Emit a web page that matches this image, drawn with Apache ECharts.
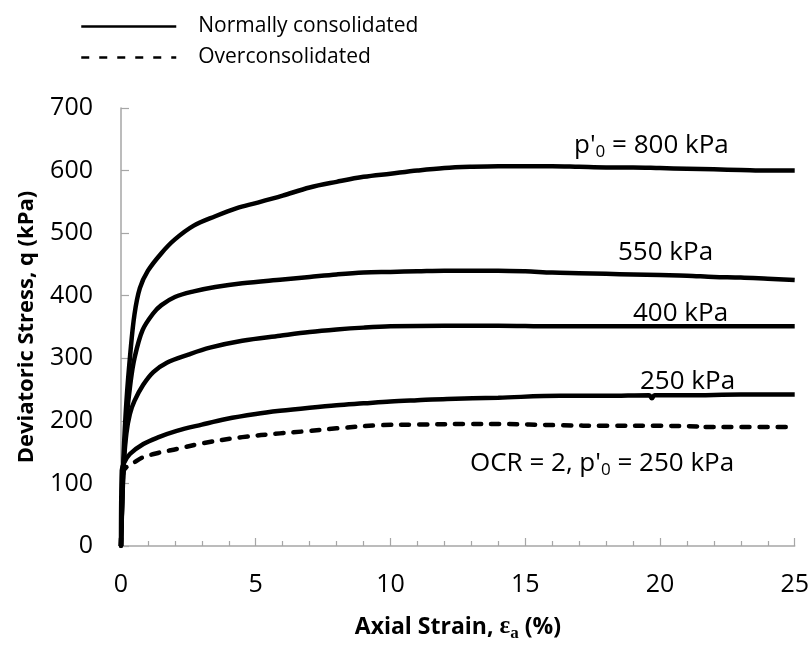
<!DOCTYPE html>
<html>
<head>
<meta charset="utf-8">
<title>Deviatoric stress vs axial strain</title>
<script src="https://cdn.jsdelivr.net/npm/echarts@6/dist/echarts.min.js"></script>
<style>
  html, body { margin: 0; padding: 0; background: #fff; }
  #chart { width: 812px; height: 647px; }
</style>
</head>
<body>
<div id="chart"></div>
<script>
// axial strain (%) and deviatoric stress q (kPa)
var strain800 = [0, 0.05, 0.1, 0.2, 0.35, 0.5, 0.7, 1, 1.5, 2, 2.7, 3.5, 4.3, 5, 6, 7, 8, 9, 10, 11, 12, 13, 14, 15, 16, 17, 18, 19, 20, 21, 22, 23, 24, 25]
var q800 = [0, 80, 150, 230, 310, 370, 412, 440, 468, 490, 512, 527, 540, 548, 560, 573, 582, 590, 595, 600, 604, 606, 607, 607, 607, 606, 605, 605, 604, 603, 602, 601, 600, 600]

var strain550 = [0, 0.1, 0.2, 0.35, 0.5, 0.8, 1.2, 1.5, 2, 2.7, 3.5, 4.5, 6, 7, 8, 9, 10, 11, 12, 13, 14, 15, 16, 17, 18, 19, 20, 21, 22, 23, 24, 25]
var q550 = [0, 130, 200, 260, 300, 345, 372, 385, 398, 407, 414, 420, 426, 430, 434, 437, 438, 439, 440, 440, 440, 439, 437, 436, 435, 434, 433, 432, 430, 429, 427, 425]

var strain400 = [0, 0.05, 0.1, 0.2, 0.33, 0.5, 0.83, 1.2, 1.7, 2.5, 3.3, 4.5, 5.9, 7, 8, 9, 10, 12, 14, 16, 18, 20, 22, 25]
var q400 = [0, 80, 130, 180, 211, 232, 258, 278, 293, 306, 317, 328, 336, 342, 346, 349, 351, 352, 352, 351, 351, 351, 351, 351]

var strain250 = [0, 0.03, 0.1, 0.33, 0.83, 1.4, 2.07, 3, 3.9, 5, 5.9, 7, 8, 9, 10, 11, 12.1, 14, 16.3, 18, 19.6, 19.7, 19.8, 21, 23, 25]
var q250 = [0, 121, 132, 147, 163, 174, 184, 194, 203, 211, 216, 221, 225, 228, 231, 233, 235, 237, 240, 240, 241, 236, 241, 241, 242, 242]

var strainOC = [0, 0.05, 0.1, 0.2, 0.5, 0.83, 1.4, 2.07, 3, 4.5, 5.9, 6.75, 8, 9.6, 11, 12.9, 14, 16.3, 18, 20, 21.4, 21.5, 21.6, 23, 25]
var qOC = [0, 100, 120, 126, 134, 142, 149, 155, 164, 174, 180, 183, 188, 193, 194, 195, 195, 193, 192, 192, 191, 187, 190, 190, 190]

var xTicks = [0, 5, 10, 15, 20, 25]
var yTicks = [0, 100, 200, 300, 400, 500, 600, 700]

var font = '"Open Sans", "Liberation Sans", sans-serif'

function pairs(xs, ys) {
  return xs.map(function (x, i) { return [x, ys[i]] })
}

function curve(name, xs, ys, dashed) {
  return {
    name: name,
    type: 'line',
    data: pairs(xs, ys),
    symbol: 'none',
    smooth: 0.35,
    silent: true,
    itemStyle: { color: '#000' },
    lineStyle: {
      color: '#000',
      width: 4.5,
      type: dashed ? [8, 10] : 'solid',
      cap: dashed ? 'round' : 'butt'
    }
  }
}

var chart = echarts.init(document.getElementById('chart'), null, { renderer: 'canvas' })

var tickLabel = { fontFamily: font, fontSize: 25, color: '#000' }
var annText = { fontFamily: font, fontSize: 26, color: '#000' }
var sub = { fontFamily: font, fontSize: 17, color: '#000', verticalAlign: 'bottom', padding: [12, 0, 0, 0] }

function annot(left, top, rich) {
  return {
    type: 'text',
    left: left,
    top: top,
    style: {
      text: rich,
      rich: { t: annText, s: sub },
      fill: '#000'
    }
  }
}

chart.setOption({
  animation: false,
  backgroundColor: '#fff',
  grid: { left: 121, right: 17, top: 108, bottom: 97 },
  legend: {
    orient: 'vertical',
    left: 75,
    top: 11,
    itemWidth: 95,
    itemHeight: 20,
    itemGap: 10,
    selectedMode: false,
    data: ['Normally consolidated', 'Overconsolidated'],
    itemStyle: { opacity: 0 },
    lineStyle: { width: 2.5, cap: 'butt' },
    textStyle: { fontFamily: font, fontSize: 21, color: '#000', padding: [0, 0, 0, 17] }
  },
  xAxis: {
    type: 'value',
    min: 0,
    max: 25,
    interval: 5,
    name: '{b|Axial Strain, }{e|ε}{a|a}{b| (%)}',
    nameLocation: 'middle',
    nameGap: 66,
    nameTextStyle: {
      rich: {
        b: { fontFamily: font, fontSize: 23, fontWeight: 'bold', color: '#000' },
        e: { fontFamily: '"Liberation Serif", serif', fontSize: 25, fontWeight: 'bold', color: '#000' },
        a: { fontFamily: '"Liberation Serif", serif', fontSize: 17, fontWeight: 'bold', color: '#000', verticalAlign: 'bottom', padding: [13, 0, 0, 0] }
      }
    },
    axisLine: { lineStyle: { color: '#a6a6a6', width: 1.5 } },
    axisTick: { inside: true, length: 8, lineStyle: { color: '#a6a6a6', width: 1.2 } },
    minorTick: { show: true, splitNumber: 5, length: 5, lineStyle: { color: '#a6a6a6', width: 1.2 } },
    axisLabel: Object.assign({ margin: 26, formatter: function (v) { return xTicks.indexOf(v) > -1 ? v : '' } }, tickLabel),
    splitLine: { show: false }
  },
  yAxis: {
    type: 'value',
    min: 0,
    max: 700,
    interval: 100,
    name: 'Deviatoric Stress, q (kPa)',
    nameLocation: 'middle',
    nameGap: 83,
    nameTextStyle: { fontFamily: font, fontSize: 22, fontWeight: 'bold', color: '#000' },
    axisLine: { show: true, lineStyle: { color: '#a6a6a6', width: 1.5 } },
    axisTick: { show: true, inside: true, length: 8, lineStyle: { color: '#a6a6a6', width: 1.2 } },
    axisLabel: Object.assign({ margin: 28, formatter: function (v) { return yTicks.indexOf(v) > -1 ? v : '' } }, tickLabel),
    splitLine: { show: false }
  },
  series: [
    curve('Normally consolidated', strain800, q800, false),
    curve('Normally consolidated', strain550, q550, false),
    curve('Normally consolidated', strain400, q400, false),
    curve('Normally consolidated', strain250, q250, false),
    curve('Overconsolidated', strainOC, qOC, true)
  ],
  graphic: [
    annot(574, 133, "{t|p'}{s|0}{t| = 800 kPa}"),
    annot(618, 240, '{t|550 kPa}'),
    annot(633, 301, '{t|400 kPa}'),
    annot(640, 369, '{t|250 kPa}'),
    annot(470, 451, "{t|OCR = 2, p'}{s|0}{t| = 250 kPa}")
  ]
})
</script>
</body>
</html>
